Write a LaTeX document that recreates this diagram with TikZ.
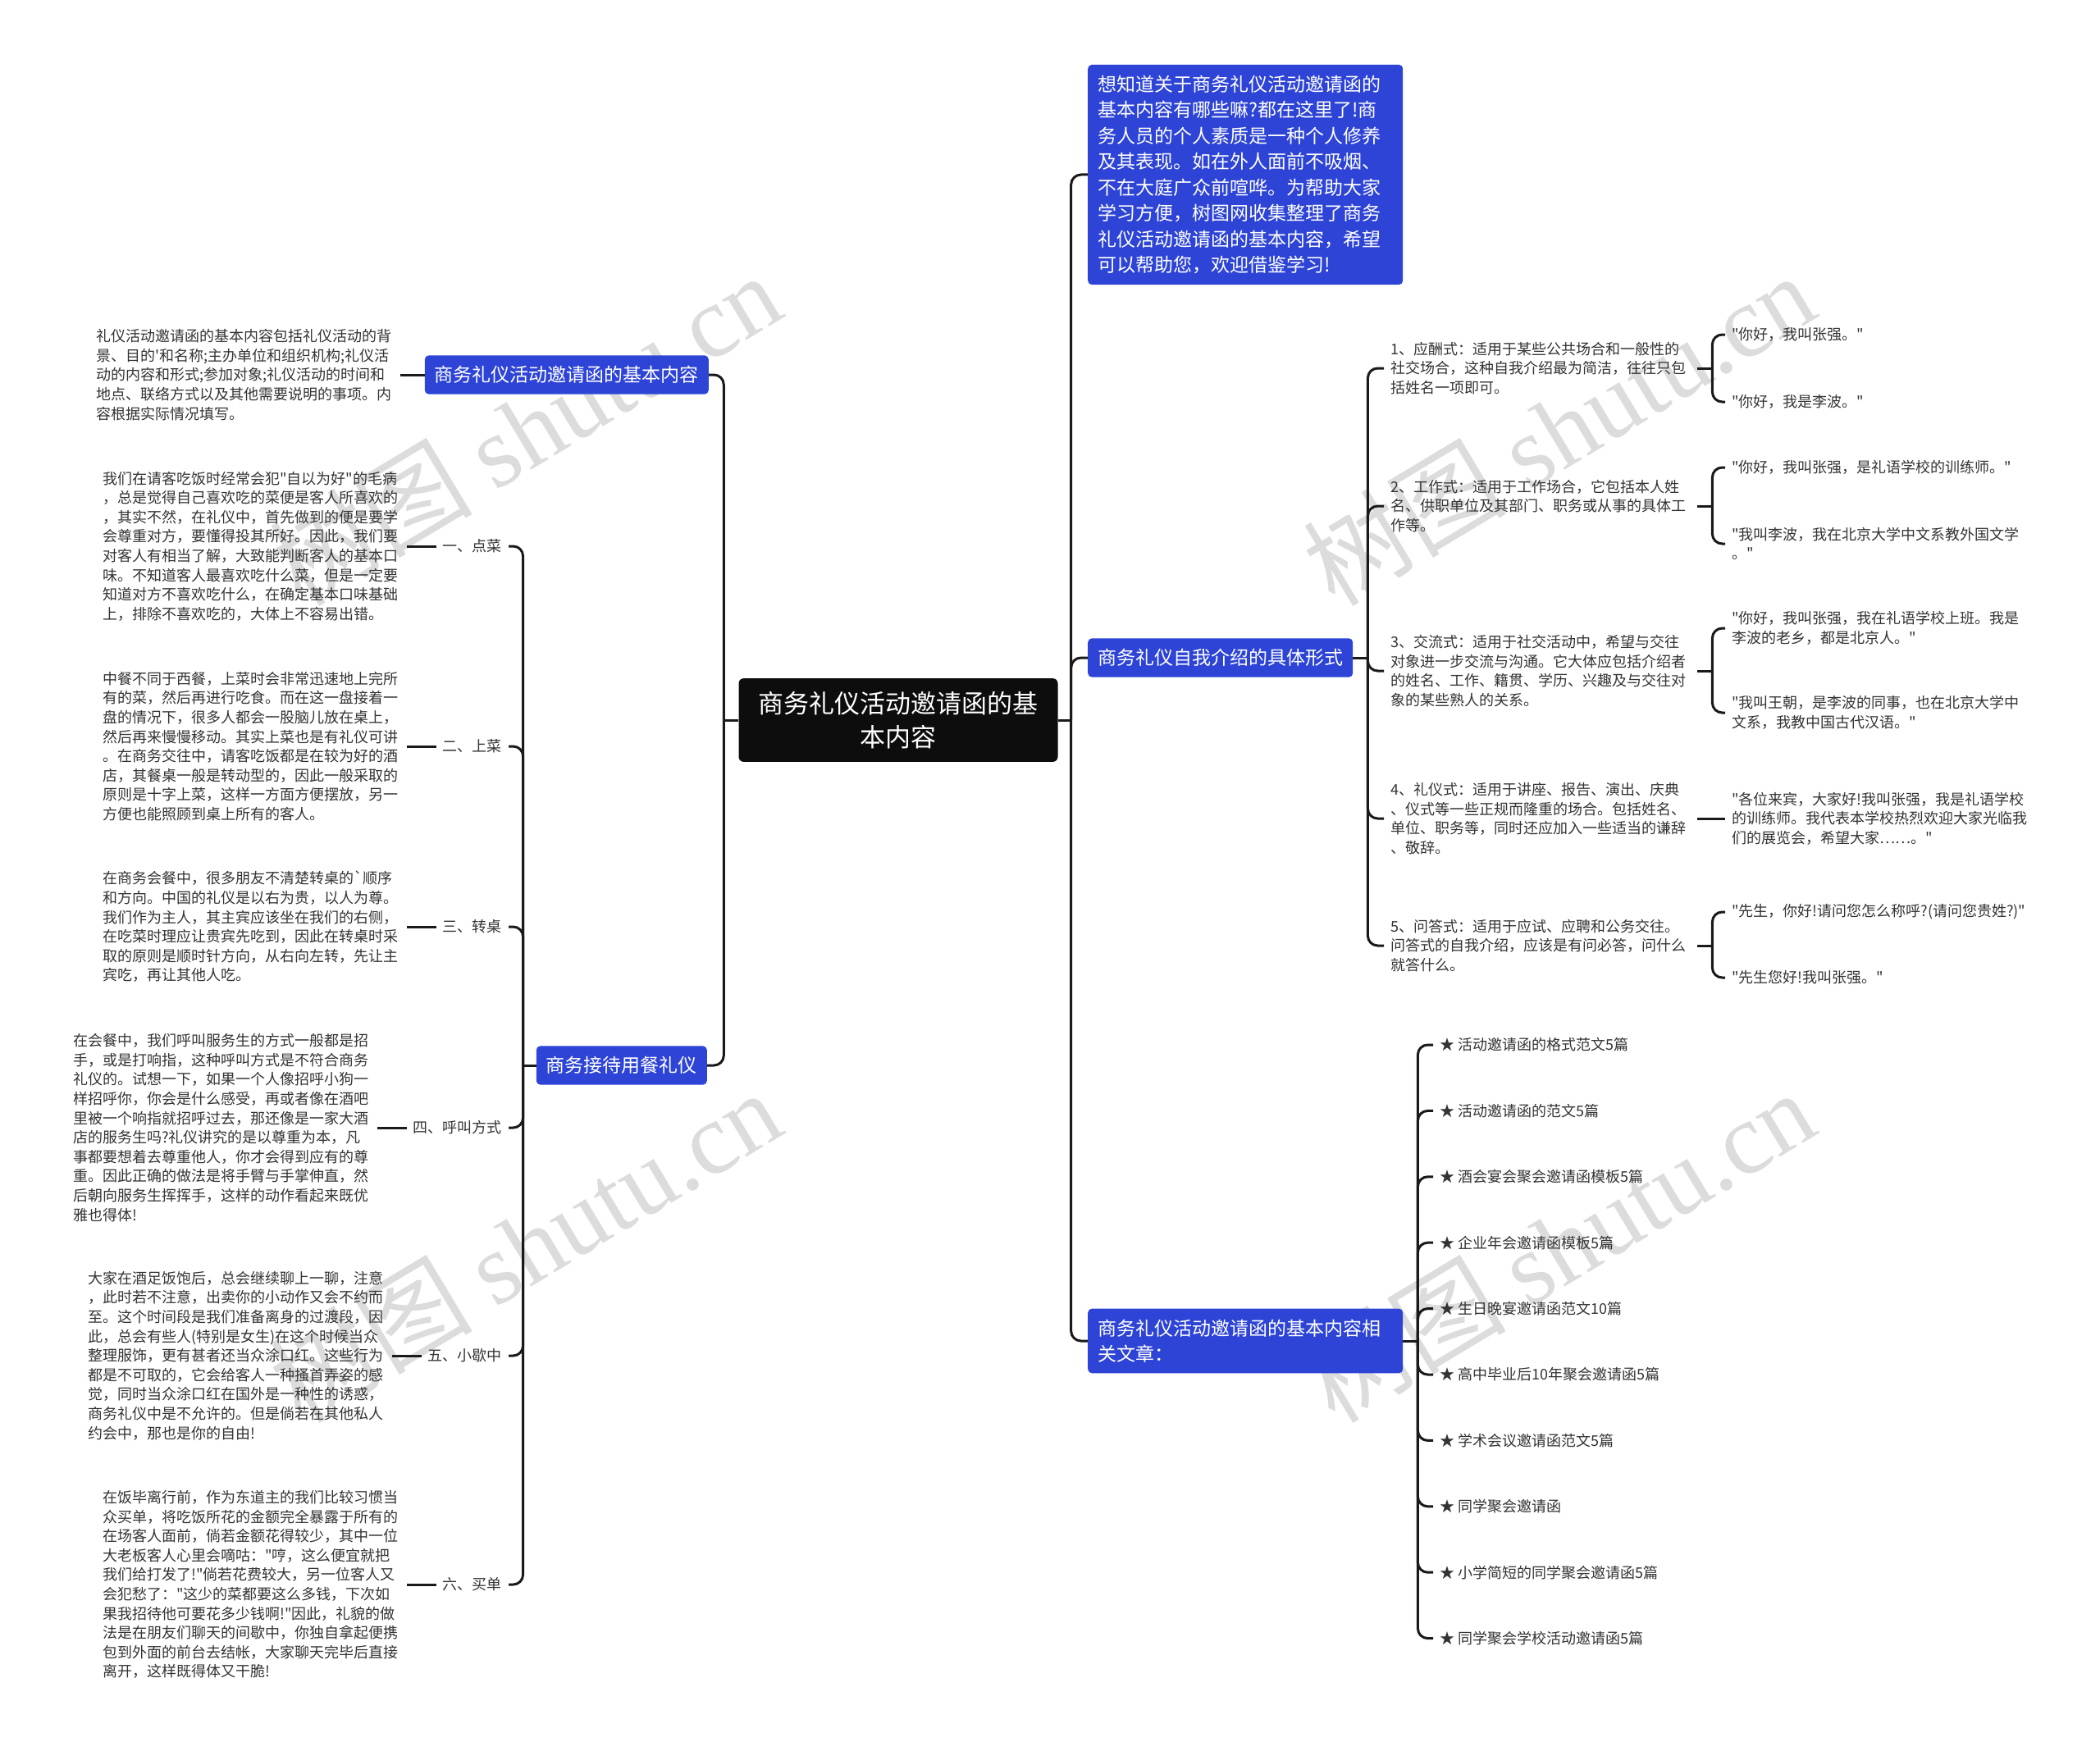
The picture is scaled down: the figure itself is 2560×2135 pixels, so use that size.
\documentclass[tikz,border=0pt]{standalone}
\usepackage{fontspec}
\setmainfont{Noto Sans CJK SC}[Ligatures=TeXOff]
\newfontfamily\wmfont{Liberation Serif}
\usetikzlibrary{positioning}
\definecolor{edge}{HTML}{1A1A1A}
\definecolor{body}{HTML}{333333}
\definecolor{rootfill}{HTML}{0D0D0D}
\definecolor{topicblue}{HTML}{2D44D6}
\definecolor{wmgray}{HTML}{DCDCDC}

\begin{document}
\begin{tikzpicture}[x=1pt,y=-1pt,
  conn/.style={draw=edge,line width=3pt,rounded corners=12pt},
  root/.style={fill=rootfill,text=white,rounded corners=6pt,align=center,
    inner xsep=24pt,inner ysep=16pt,font=\fontsize{31}{41}\selectfont},
  topic/.style={fill=topicblue,text=white,rounded corners=5pt,align=left,
    inner xsep=12pt,inner ysep=13pt,font=\fontsize{23}{31.5}\selectfont},
  note/.style={text=body,align=left,inner sep=8pt,text width=362pt,
    font=\fontsize{18}{23.6}\selectfont},
  tag/.style={text=body,align=left,inner sep=8pt,
    font=\fontsize{18}{23.6}\selectfont},
  wm/.style={text=wmgray,rotate=31,font=\fontsize{124}{124}\selectfont}]
  \fill[white] (0,0) rectangle (2560,2135);
  \useasboundingbox (0,0) rectangle (2560,2135);

  % watermarks
  \node[wm] (wm1) at (640,523) {树图 {\wmfont shutu.cn}};
  \node[wm] (wm2) at (640,1519) {树图 {\wmfont shutu.cn}};
  \node[wm] (wm3) at (1900,523) {树图 {\wmfont shutu.cn}};
  \node[wm] (wm4) at (1900,1519) {树图 {\wmfont shutu.cn}};

  \node[root] (root) at (1095,878) {商务礼仪活动邀请函的基\\本内容};

  % left side
  \node[topic,anchor=east] (basic) at (864,457) {商务礼仪活动邀请函的基本内容};
  \node[note,left=30pt of basic] (basictxt)
    {礼仪活动邀请函的基本内容包括礼仪活动的背\\
     景、目的'和名称;主办单位和组织机构;礼仪活\\
     动的内容和形式;参加对象;礼仪活动的时间和\\
     地点、联络方式以及其他需要说明的事项。内\\
     容根据实际情况填写。};
  \node[topic,anchor=east] (dining) at (862,1299) {商务接待用餐礼仪};

  \draw[conn] (root.west) -- ++(-18,0) coordinate (lhub);
  \draw[conn] (lhub) |- (basic.east);
  \draw[conn] (lhub) |- (dining.east);
  \draw[conn] (basictxt.east) -- (basic.west);

  \draw[conn] (dining.west) -- ++(-16,0) coordinate (dhub);

  \node[tag,anchor=east] (order) at (620,666) {一、点菜};
  \node[note,left=36pt of order] (ordertxt)
    {我们在请客吃饭时经常会犯"自以为好"的毛病\\
     ，总是觉得自己喜欢吃的菜便是客人所喜欢的\\
     ，其实不然，在礼仪中，首先做到的便是要学\\
     会尊重对方，要懂得投其所好。因此，我们要\\
     对客人有相当了解，大致能判断客人的基本口\\
     味。不知道客人最喜欢吃什么菜，但是一定要\\
     知道对方不喜欢吃什么，在确定基本口味基础\\
     上，排除不喜欢吃的，大体上不容易出错。};

  \node[tag,anchor=east] (serve) at (620,910) {二、上菜};
  \node[note,left=36pt of serve] (servetxt)
    {中餐不同于西餐，上菜时会非常迅速地上完所\\
     有的菜，然后再进行吃食。而在这一盘接着一\\
     盘的情况下，很多人都会一股脑儿放在桌上，\\
     然后再来慢慢移动。其实上菜也是有礼仪可讲\\
     。在商务交往中，请客吃饭都是在较为好的酒\\
     店，其餐桌一般是转动型的，因此一般采取的\\
     原则是十字上菜，这样一方面方便摆放，另一\\
     方便也能照顾到桌上所有的客人。};

  \node[tag,anchor=east] (turn) at (620,1130) {三、转桌};
  \node[note,left=36pt of turn] (turntxt)
    {在商务会餐中，很多朋友不清楚转桌的`顺序\\
     和方向。中国的礼仪是以右为贵，以人为尊。\\
     我们作为主人，其主宾应该坐在我们的右侧，\\
     在吃菜时理应让贵宾先吃到，因此在转桌时采\\
     取的原则是顺时针方向，从右向左转，先让主\\
     宾吃，再让其他人吃。};

  \node[tag,anchor=east] (call) at (620,1375) {四、呼叫方式};
  \node[note,left=36pt of call] (calltxt)
    {在会餐中，我们呼叫服务生的方式一般都是招\\
     手，或是打响指，这种呼叫方式是不符合商务\\
     礼仪的。试想一下，如果一个人像招呼小狗一\\
     样招呼你，你会是什么感受，再或者像在酒吧\\
     里被一个响指就招呼过去，那还像是一家大酒\\
     店的服务生吗?礼仪讲究的是以尊重为本，凡\\
     事都要想着去尊重他人，你才会得到应有的尊\\
     重。因此正确的做法是将手臂与手掌伸直，然\\
     后朝向服务生挥挥手，这样的动作看起来既优\\
     雅也得体!};

  \node[tag,anchor=east] (rest) at (620,1653) {五、小歇中};
  \node[note,left=36pt of rest] (resttxt)
    {大家在酒足饭饱后，总会继续聊上一聊，注意\\
     ，此时若不注意，出卖你的小动作又会不约而\\
     至。这个时间段是我们准备离身的过渡段，因\\
     此，总会有些人(特别是女生)在这个时候当众\\
     整理服饰，更有甚者还当众涂口红。这些行为\\
     都是不可取的，它会给客人一种搔首弄姿的感\\
     觉，同时当众涂口红在国外是一种性的诱惑，\\
     商务礼仪中是不允许的。但是倘若在其他私人\\
     约会中，那也是你的自由!};

  \node[tag,anchor=east] (bill) at (620,1932) {六、买单};
  \node[note,left=36pt of bill] (billtxt)
    {在饭毕离行前，作为东道主的我们比较习惯当\\
     众买单，将吃饭所花的金额完全暴露于所有的\\
     在场客人面前，倘若金额花得较少，其中一位\\
     大老板客人心里会嘀咕："哼，这么便宜就把\\
     我们给打发了!"倘若花费较大，另一位客人又\\
     会犯愁了："这少的菜都要这么多钱，下次如\\
     果我招待他可要花多少钱啊!"因此，礼貌的做\\
     法是在朋友们聊天的间歇中，你独自拿起便携\\
     包到外面的前台去结帐，大家聊天完毕后直接\\
     离开，这样既得体又干脆!};

  \foreach \lab in {order,serve,turn,call,rest,bill} {
    \draw[conn] (dhub) |- (\lab.east);
    \draw[conn] (\lab txt.east) -- (\lab.west);
  }

  % right side
  \node[topic,anchor=west,text width=360pt] (intro) at (1326,213)
    {想知道关于商务礼仪活动邀请函的\\
     基本内容有哪些嘛?都在这里了!商\\
     务人员的个人素质是一种个人修养\\
     及其表现。如在外人面前不吸烟、\\
     不在大庭广众前喧哗。为帮助大家\\
     学习方便，树图网收集整理了商务\\
     礼仪活动邀请函的基本内容，希望\\
     可以帮助您，欢迎借鉴学习!};
  \node[topic,anchor=west] (forms) at (1326,802) {商务礼仪自我介绍的具体形式};
  \node[topic,anchor=west,text width=360pt] (related) at (1326,1635)
    {商务礼仪活动邀请函的基本内容相\\关文章：};

  \draw[conn] (root.east) -- ++(16,0) coordinate (mhub);
  \draw[conn] (mhub) |- (intro.west);
  \draw[conn] (mhub) |- (forms.west);
  \draw[conn] (mhub) |- (related.west);

  \draw[conn] (forms.east) -- ++(18,0) coordinate (fhub);

  \node[note,anchor=west,text width=366pt] (f1) at (1687,449)
    {1、应酬式：适用于某些公共场合和一般性的\\
     社交场合，这种自我介绍最为简洁，往往只包\\
     括姓名一项即可。};
  \node[tag,anchor=west] (f1a) at (2103,408) {"你好，我叫张强。"};
  \node[tag,anchor=west] (f1b) at (2103,490) {"你好，我是李波。"};

  \node[note,anchor=west,text width=366pt] (f2) at (1687,617)
    {2、工作式：适用于工作场合，它包括本人姓\\
     名、供职单位及其部门、职务或从事的具体工\\
     作等。};
  \node[tag,anchor=west] (f2a) at (2103,570) {"你好，我叫张强，是礼语学校的训练师。"};
  \node[tag,anchor=west] (f2b) at (2103,663)
    {"我叫李波，我在北京大学中文系教外国文学\\。"};

  \node[note,anchor=west,text width=366pt] (f3) at (1687,818)
    {3、交流式：适用于社交活动中，希望与交往\\
     对象进一步交流与沟通。它大体应包括介绍者\\
     的姓名、工作、籍贯、学历、兴趣及与交往对\\
     象的某些熟人的关系。};
  \node[tag,anchor=west] (f3a) at (2103,766)
    {"你好，我叫张强，我在礼语学校上班。我是\\李波的老乡，都是北京人。"};
  \node[tag,anchor=west] (f3b) at (2103,869)
    {"我叫王朝，是李波的同事，也在北京大学中\\文系，我教中国古代汉语。"};

  \node[note,anchor=west,text width=366pt] (f4) at (1687,998)
    {4、礼仪式：适用于讲座、报告、演出、庆典\\
     、仪式等一些正规而隆重的场合。包括姓名、\\
     单位、职务等，同时还应加入一些适当的谦辞\\
     、敬辞。};
  \node[tag,anchor=west] (f4a) at (2103,998)
    {"各位来宾，大家好!我叫张强，我是礼语学校\\
     的训练师。我代表本学校热烈欢迎大家光临我\\
     们的展览会，希望大家……。"};

  \node[note,anchor=west,text width=366pt] (f5) at (1687,1153)
    {5、问答式：适用于应试、应聘和公务交往。\\
     问答式的自我介绍，应该是有问必答，问什么\\
     就答什么。};
  \node[tag,anchor=west] (f5a) at (2103,1112) {"先生，你好!请问您怎么称呼?(请问您贵姓?)"};
  \node[tag,anchor=west] (f5b) at (2103,1192) {"先生您好!我叫张强。"};

  \foreach \f in {f1,f2,f3,f4,f5} {
    \draw[conn] (fhub) |- (\f.west);
  }
  \foreach \f in {f1,f2,f3,f5} {
    \draw[conn] (\f.east) -- ++(18,0) coordinate (\f hub);
    \draw[conn] (\f hub) |- (\f a.west);
    \draw[conn] (\f hub) |- (\f b.west);
  }
  \draw[conn] (f4.east) -- (f4a.west);

  \draw[conn] (related.east) -- ++(18,0) coordinate (rhub);
  \foreach \k/\art in {0/活动邀请函的格式范文5篇,1/活动邀请函的范文5篇,
      2/酒会宴会聚会邀请函模板5篇,3/企业年会邀请函模板5篇,
      4/生日晚宴邀请函范文10篇,5/高中毕业后10年聚会邀请函5篇,
      6/学术会议邀请函范文5篇,7/同学聚会邀请函,
      8/小学简短的同学聚会邀请函5篇,9/同学聚会学校活动邀请函5篇} {
    \node[tag,anchor=west] (art\k) at (1747,{1274+80.4*\k}) {★ \art};
    \draw[conn] (rhub) |- (art\k.west);
  }
\end{tikzpicture}
\end{document}
